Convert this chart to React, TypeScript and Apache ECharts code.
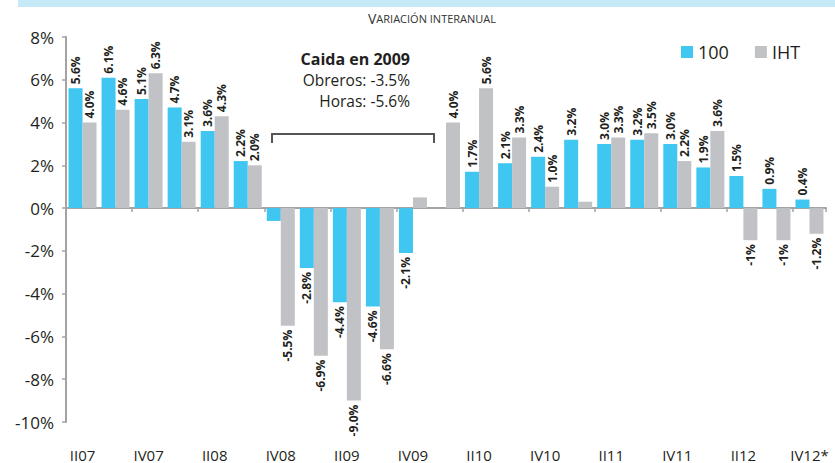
import React, { useEffect, useRef } from "react";
import * as echarts from "echarts";

const quarters = ["II07","III07","IV07","I08","II08","III08","IV08","I09","II09","III09","IV09","I10","II10","III10","IV10","I11","II11","III11","IV11","I12","II12","III12","IV12*"];
const serie100 = [5.6, 6.1, 5.1, 4.7, 3.6, 2.2, -0.6, -2.8, -4.4, -4.6, -2.1, null, 1.7, 2.1, 2.4, 3.2, 3.0, 3.2, 3.0, 1.9, 1.5, 0.9, 0.4];
const serieIHT = [4.0, 4.6, 6.3, 3.1, 4.3, 2.0, -5.5, -6.9, -9.0, -6.6, 0.5, 4.0, 5.6, 3.3, 1.0, 0.3, 3.3, 3.5, 2.2, 3.6, -1.5, -1.5, -1.2];
const labels100 = ["5.6%","6.1%","5.1%","4.7%","3.6%","2.2%","","-2.8%","-4.4%","-4.6%","-2.1%","","1.7%","2.1%","2.4%","3.2%","3.0%","3.2%","3.0%","1.9%","1.5%","0.9%","0.4%"];
const labelsIHT = ["4.0%","4.6%","6.3%","3.1%","4.3%","2.0%","-5.5%","-6.9%","-9.0%","-6.6%","","4.0%","5.6%","3.3%","1.0%","","3.3%","3.5%","2.2%","3.6%","-1%","-1%","-1.2%"];
const yTicks = { min: -10, max: 8, interval: 2 };
const noteLines = ["Caida en 2009", "Obreros: -3.5%", "Horas: -5.6%"];

const FONT = "'Open Sans', 'Noto Sans', sans-serif";
const BLUE = "#3fc6f1";
const GREY = "#c1c2c6";

function buildData(values: (number | null)[]) {
  return values.map((v) =>
    v === null ? null : { value: v, label: { align: v >= 0 ? "left" : "right" } }
  );
}

export default function App() {
  const ref = useRef<HTMLDivElement>(null);
  useEffect(() => {
    if (!ref.current) return;
    const chart = echarts.init(ref.current, undefined, { renderer: "svg" });
    const labelBase = {
      show: true,
      position: "outside",
      rotate: 90,
      verticalAlign: "middle",
      distance: 4,
      color: "#231f20",
      fontSize: 12,
      fontWeight: "bold",
      fontFamily: FONT,
    };
    const noteStyle = (text: string, bold: boolean) => ({
      text,
      align: "right",
      verticalAlign: "middle",
      fontSize: bold ? 16 : 15.5,
      lineHeight: 17,
      fontWeight: bold ? "bold" : "normal",
      fill: "#231f20",
      fontFamily: FONT,
    });
    chart.setOption({
      animation: false,
      textStyle: { fontFamily: FONT },
      legend: {
        left: 676,
        top: 38,
        icon: "rect",
        itemWidth: 12,
        itemHeight: 12,
        itemGap: 26,
        textStyle: { fontSize: 18, color: "#231f20", fontFamily: FONT },
        data: ["100", "IHT"],
      },
      grid: { left: 66, right: 9, top: 37, bottom: 41, containLabel: false },
      xAxis: [
        {
          type: "category",
          data: quarters,
          axisLine: { onZero: true, lineStyle: { color: "#a3a3a3", width: 2 } },
          axisTick: { show: true, length: 4, lineStyle: { color: "#a3a3a3", width: 1.5 } },
          axisLabel: { show: false },
        },
        {
          type: "category",
          data: quarters,
          position: "bottom",
          axisLine: { show: false },
          axisTick: { show: false },
          axisLabel: {
            show: true,
            interval: 1,
            margin: 25,
            fontSize: 15,
            color: "#231f20",
            fontFamily: FONT,
          },
        },
      ],
      yAxis: {
        type: "value",
        min: yTicks.min,
        max: yTicks.max,
        interval: yTicks.interval,
        axisLine: { show: true, lineStyle: { color: "#a3a3a3", width: 2 } },
        axisTick: { show: true, length: 4, lineStyle: { color: "#a3a3a3", width: 1.5 } },
        splitLine: { show: false },
        axisLabel: {
          margin: 12,
          fontSize: 17,
          color: "#231f20",
          fontFamily: FONT,
          formatter: (v: number) => `${v}%`,
        },
      },
      series: [
        {
          name: "100",
          type: "bar",
          xAxisIndex: 0,
          barWidth: 14,
          barGap: "0%",
          itemStyle: { color: BLUE },
          label: { ...labelBase, formatter: (p: any) => labels100[p.dataIndex] },
          data: buildData(serie100),
        },
        {
          name: "IHT",
          type: "bar",
          xAxisIndex: 0,
          barWidth: 14,
          barGap: "0%",
          itemStyle: { color: GREY },
          label: { ...labelBase, formatter: (p: any) => labelsIHT[p.dataIndex] },
          data: buildData(serieIHT),
        },
      ],
      graphic: [
        { type: "rect", left: 18, top: 0, shape: { width: 835 - 18, height: 7 }, style: { fill: "#c6e9f8" } },
        {
          type: "text",
          x: 432,
          y: 18,
          style: {
            text: "{a|V}{b|ARIACIÓN INTERANUAL}",
            align: "center",
            verticalAlign: "middle",
            rich: {
              a: { fontSize: 14, fill: "#333", fontFamily: FONT },
              b: { fontSize: 11, fill: "#333", fontFamily: FONT },
            },
          },
        },
        { type: "text", x: 410, y: 59, style: noteStyle(noteLines[0], true) },
        { type: "text", x: 410, y: 80, style: noteStyle(noteLines[1], false) },
        { type: "text", x: 410, y: 101, style: noteStyle(noteLines[2], false) },
        {
          type: "polyline",
          shape: { points: [[272, 143], [272, 134], [434, 134], [434, 143]] },
          style: { stroke: "#555", lineWidth: 2, fill: "none" },
        },
      ],
    });
    return () => chart.dispose();
  }, []);
  return <div ref={ref} style={{ width: 835, height: 463, position: "absolute", left: 0, top: 0 }} />;
}
